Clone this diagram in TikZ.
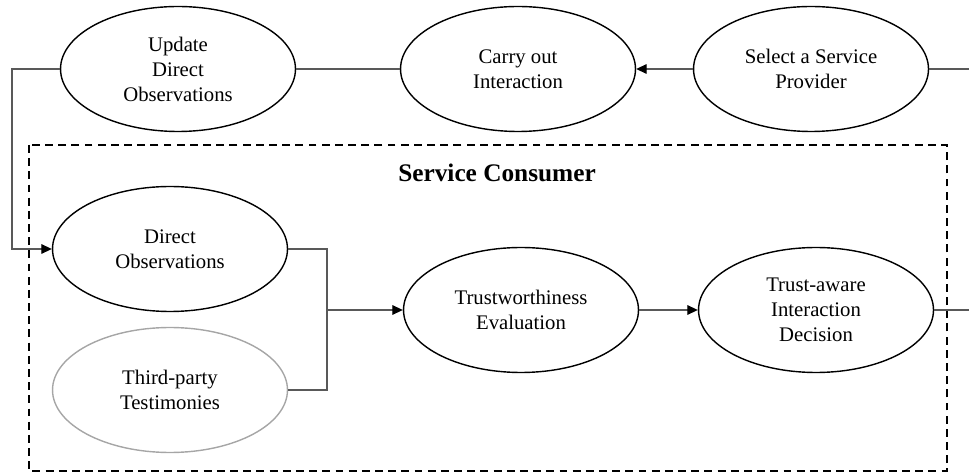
\documentclass[tikz,border=0pt]{standalone}
\usepackage{fontspec}
\setmainfont{Liberation Serif}
\usetikzlibrary{arrows.meta,shapes.geometric}
\begin{document}
\begin{tikzpicture}[x=0.02cm,y=-0.02cm,
		task/.style={ellipse,draw,line width=0.8pt,minimum width=4.7cm,minimum height=2.5cm,inner sep=0pt,align=center,font=\fontsize{11.8}{14.2}\selectfont},
		source/.style={task,draw=black!35},
		link/.style={draw=black!65,line width=0.6pt},
		tip/.style={-{Triangle[length=6pt,width=5.5pt,color=black]}}]
	\useasboundingbox (0,0) rectangle (969,472);
	% service consumer frame
	\draw[dash pattern=on 4.5pt off 3pt,line width=0.8pt] (29,145) rectangle (947,471);
	\node[font=\fontsize{14.4}{17}\selectfont\bfseries] (title) at (497,173) {Service Consumer};
	% top row
	\node[task] (update) at (178,69) {Update\\Direct\\Observations};
	\node[task] (carry) at (518,69) {Carry out\\Interaction};
	\node[task] (select) at (811,69) {Select a Service\\Provider};
	% inside the consumer
	\node[task] (direct) at (170,249) {Direct\\Observations};
	\node[source] (third) at (170,390) {Third-party\\Testimonies};
	\node[task] (trust) at (521,310) {Trustworthiness\\Evaluation};
	\node[task] (decision) at (816,310) {Trust-aware\\Interaction\\Decision};
	\coordinate (outsel) at (969,69);
	\coordinate (outdec) at (969,310);
	\coordinate (join) at (327,310);
	\coordinate (back) at (12,69);
	% connectors
	\draw[link] (select.east) -- (outsel);
	\draw[link,tip] (select.west) -- (carry.east);
	\draw[link] (carry.west) -- (update.east);
	\draw[link,tip] (update.west) -- (back) |- (direct.west);
	\draw[link] (direct.east) -| (join) |- (third.east);
	\draw[link,tip] (join) -- (trust.west);
	\draw[link,tip] (trust.east) -- (decision.west);
	\draw[link] (decision.east) -- (outdec);
\end{tikzpicture}
\end{document}
